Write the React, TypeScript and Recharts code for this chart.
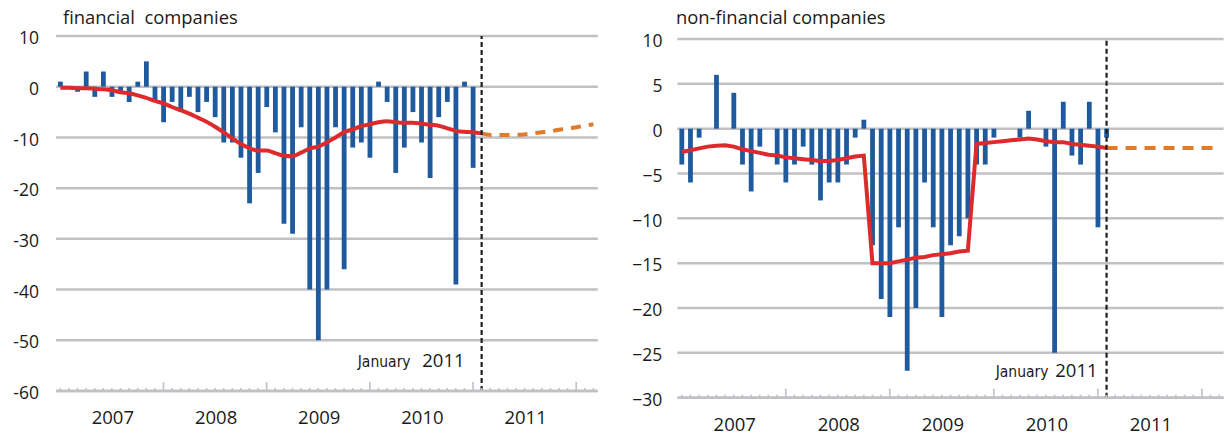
import React from 'react';
import { Bar, CartesianGrid, ComposedChart, Line, ReferenceLine, XAxis, YAxis } from 'recharts';

// month index: 0 = Dec 2006 ... 49 = Jan 2011 ... 62 = Feb 2012
const MONTHS = Array.from({ length: 63 }, (_, i) => i);
const FORECAST_START = 49;
const YEAR_LABELS = ['2007', '2008', '2009', '2010', '2011'];
const YEAR_LABEL_MONTHS = [6, 18, 30, 42, 54];
const YEAR_TICK_MONTHS = [12, 24, 36, 48, 60];

const FIN_TICKS = [10, 0, -10, -20, -30, -40, -50, -60];
const NONFIN_TICKS = [10, 5, 0, -5, -10, -15, -20, -25, -30];

// financial companies (Dec 2006 - Dec 2010)
const finBars = [
  1, 0, -1, 3, -2, 3, -2, -1, -3, 1, 5, -3, -7, -3, -5, -2, -5, -3, -6, -11,
  -11, -14, -23, -17, -4, -9, -27, -29, -8, -40, -50, -40, -8, -36, -12, -11, -14, 1, -3, -17,
  -12, -5, -11, -18, -6, -3, -39, 1, -16,
];
const finTrend = [
  -0.2, -0.2, -0.3, -0.3, -0.4, -0.5, -0.7, -1.1, -1.3, -1.7, -2.2, -2.8, -3.3, -4.0, -4.6, -5.3, -6.1, -6.9, -7.9, -9.0,
  -10.2, -11.3, -12.1, -12.6, -12.6, -13.1, -13.6, -13.7, -13.0, -12.2, -11.8, -11.0, -10.0, -9.0, -8.4, -7.8, -7.4, -7.0, -6.8, -7.0,
  -7.1, -7.1, -7.3, -7.5, -7.7, -8.2, -8.7, -8.9, -9.0, -9.2,
];
const finForecast = [-9.2, -9.5, -9.5, -9.5, -9.5, -9.4, -9.2, -9.0, -8.8, -8.5, -8.3, -8.0, -7.7, -7.4];

// non-financial companies (Dec 2006 - Jan 2011)
const nonFinBars = [
  -4, -6, -1, 0, 6, 0, 4, -4, -7, -2, 0, -4, -6, -4, -2, -4, -8, -6, -6, -4,
  -1, 1, -13, -19, -21, -11, -27, -20, -6, -11, -21, -13, -12, -10, -4, -4, -1, 0, 0, -1,
  2, 0, -2, -25, 3, -3, -4, 3, -11, -1,
];
const nonFinTrend = [
  -2.6, -2.4, -2.2, -2.0, -1.9, -1.85, -2.0, -2.3, -2.5, -2.7, -2.9, -3.0, -3.2, -3.3, -3.4, -3.5, -3.6, -3.6, -3.5, -3.3,
  -3.1, -3.0, -15.0, -15.0, -15.0, -14.8, -14.6, -14.4, -14.3, -14.1, -14.0, -13.9, -13.7, -13.6, -1.7, -1.6, -1.5, -1.4, -1.3, -1.2,
  -1.1, -1.2, -1.4, -1.5, -1.5, -1.7, -1.8, -1.9, -2.0, -2.15,
];
const nonFinForecast = [-2.15, -2.15, -2.15, -2.15, -2.15, -2.15, -2.15, -2.15, -2.15, -2.15, -2.15, -2.15, -2.15, -2.15];

const BLUE = '#1f5a9e';
const RED = '#dd2a2d';
const ORANGE = '#e07b2c';
const GRID = '#c0c0c5';
const INK = '#1a1a1a';

function buildRows(bars: number[], trend: number[], forecast: number[]) {
  return MONTHS.map((m) => ({
    m,
    bar: bars[m] ?? null,
    trend: trend[m] ?? null,
    forecast: m >= FORECAST_START ? forecast[m - FORECAST_START] ?? null : null,
  }));
}

function MonthTick(props: any) {
  const { x, y, payload } = props;
  const m = payload.value;
  const major = YEAR_TICK_MONTHS.includes(m);
  const li = YEAR_LABEL_MONTHS.indexOf(m);
  return (
    <g>
      <line x1={x} x2={x} y1={y} y2={y - (major ? 9 : 3)} stroke={GRID} strokeWidth={1.6} />
      {li >= 0 && (
        <text x={x + 1} y={y + 33} textAnchor="middle" fontSize={18.5} fill={INK}>
          {YEAR_LABELS[li]}
        </text>
      )}
    </g>
  );
}

function JanLabel(props: any) {
  const { viewBox, yearGap, janGap, baseline } = props;
  const x = viewBox.x;
  const y = viewBox.y + viewBox.height - baseline;
  return (
    <g>
      <text x={x - janGap} y={y} textAnchor="end" fontSize={15.5} fill={INK}
        fontFamily="'DejaVu Sans Condensed', 'Liberation Sans Narrow', sans-serif">
        January
      </text>
      <text x={x - yearGap} y={y} textAnchor="end" fontSize={18.5} fill={INK}>
        2011
      </text>
    </g>
  );
}

interface PanelProps {
  title: string;
  bars: number[];
  trend: number[];
  forecast: number[];
  ticks: number[];
  smooth: boolean;
  left: number;
  margin: { top: number; right: number; left: number; bottom: number };
  yWidth: number;
  xHeight: number;
  titleX: number;
  yLabel: (v: number) => string;
  yearGap: number;
  janGap: number;
  baseline: number;
  dash: string;
}

function Panel(p: PanelProps) {
  const rows = buildRows(p.bars, p.trend, p.forecast);
  const curve = p.smooth ? 'monotone' : 'linear';
  return (
    <div style={{ position: 'absolute', left: p.left, top: 0, width: 612, height: 439 }}>
      <div style={{ position: 'absolute', left: p.titleX, top: 8, fontSize: 18.4, lineHeight: '18px', color: INK, whiteSpace: 'pre' }}>
        {p.title}
      </div>
      <ComposedChart width={612} height={439} data={rows} margin={p.margin} barGap={0}>
        <CartesianGrid horizontal vertical={false} stroke={GRID} strokeWidth={2.5} />
        <XAxis
          dataKey="m"
          type="number"
          domain={[-0.5, 62.5]}
          ticks={MONTHS}
          interval={0}
          height={p.xHeight}
          tickSize={0}
          tickMargin={0}
          tickLine={false}
          axisLine={{ stroke: GRID, strokeWidth: 2.5 }}
          tick={<MonthTick />}
        />
        <YAxis
          type="number"
          domain={[p.ticks[p.ticks.length - 1], p.ticks[0]]}
          ticks={p.ticks}
          interval={0}
          width={p.yWidth}
          tickSize={0}
          tickMargin={p.margin.left > 12 ? 15 : 17}
          axisLine={false}
          tickLine={false}
          tickFormatter={p.yLabel}
          tick={{ fontSize: 17.5, fill: INK, dy: 2 }}
        />
        <Bar dataKey="bar" fill={BLUE} barSize={4.8} isAnimationActive={false} />
        <Line dataKey="trend" type={curve} stroke={RED} strokeWidth={4} dot={false} isAnimationActive={false} />
        <Line dataKey="forecast" type={curve} stroke={ORANGE} strokeWidth={4} strokeDasharray={p.dash} dot={false} isAnimationActive={false} />
        <ReferenceLine
          x={FORECAST_START}
          stroke="#1e1e1e"
          strokeWidth={2.2}
          strokeDasharray="5 3"
          label={<JanLabel yearGap={p.yearGap} janGap={p.janGap} baseline={p.baseline} />}
        />
      </ComposedChart>
    </div>
  );
}

export default function App() {
  return (
    <div style={{ position: 'absolute', left: 0, top: 0, width: 1224, height: 439, background: '#fff', fontFamily: "'Open Sans', 'Noto Sans', sans-serif" }}>
      <Panel
        title={'financial  companies'}
        bars={finBars}
        trend={finTrend}
        forecast={finForecast}
        ticks={FIN_TICKS}
        smooth
        left={0}
        margin={{ top: 36, right: 14.3, left: 10, bottom: 8 }}
        yWidth={46}
        xHeight={40}
        titleX={63}
        yLabel={(v) => String(v)}
        yearGap={17}
        janGap={71}
        baseline={24}
        dash="10 8"
      />
      <Panel
        title="non-financial companies"
        bars={nonFinBars}
        trend={nonFinTrend}
        forecast={nonFinForecast}
        ticks={NONFIN_TICKS}
        smooth={false}
        left={612}
        margin={{ top: 39, right: 0.4, left: 15.4, bottom: 6.3 }}
        yWidth={50}
        xHeight={35}
        titleX={64}
        yLabel={(v) => (v < 0 ? '\u2212' + Math.abs(v) : String(v))}
        yearGap={9}
        janGap={58}
        baseline={21}
        dash="11 8"
      />
    </div>
  );
}
